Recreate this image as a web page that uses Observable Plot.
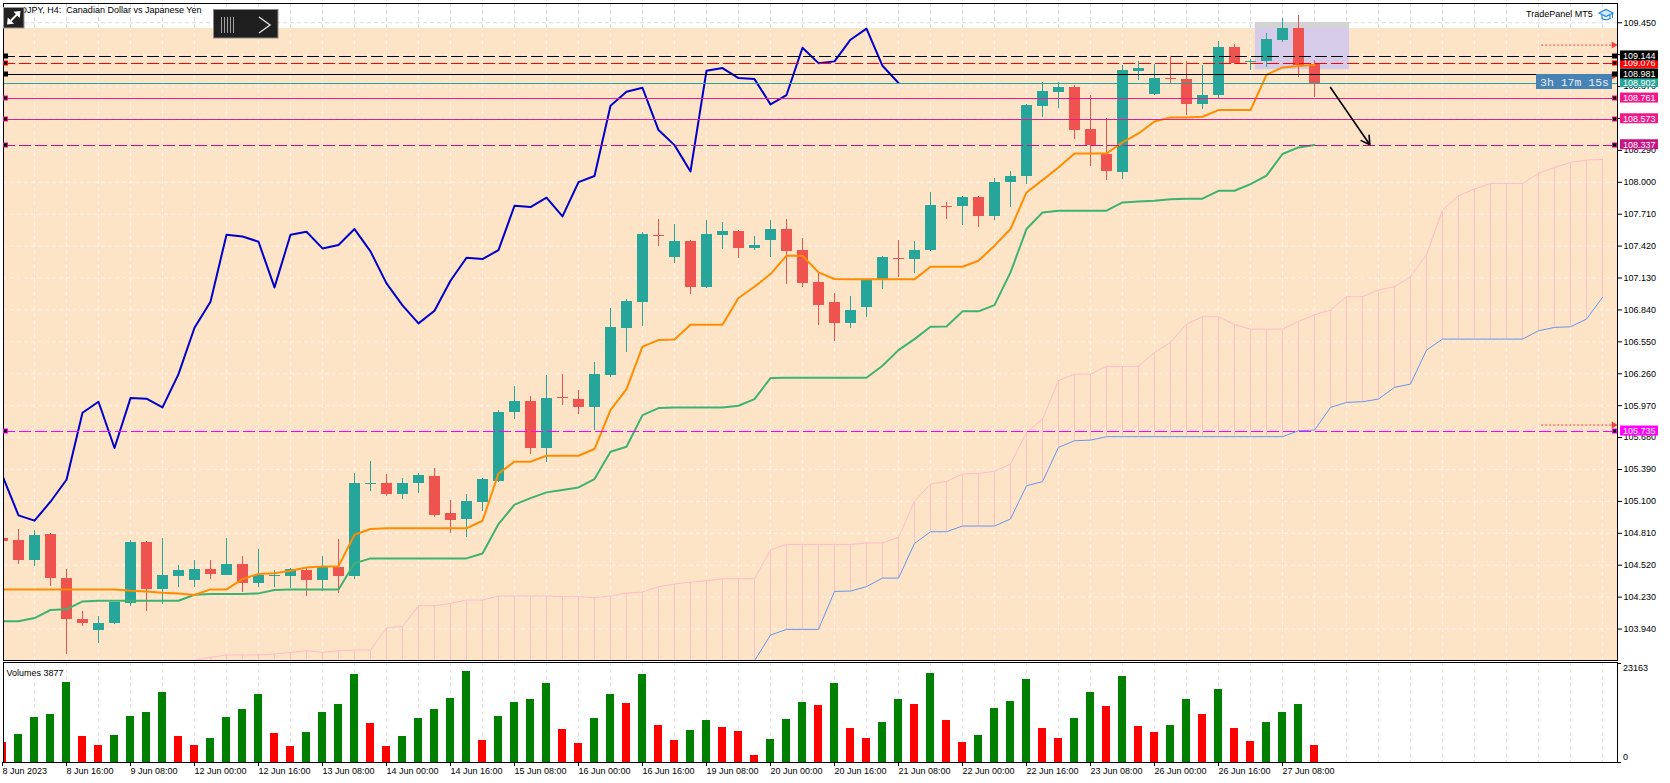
<!DOCTYPE html>
<html><head><meta charset="utf-8">
<script src="https://cdn.jsdelivr.net/npm/d3@7"></script>
<script src="https://cdn.jsdelivr.net/npm/@observablehq/plot@0.6"></script>
<style>
html,body{margin:0;padding:0;background:#fff;overflow:hidden;}
#wrap{position:relative;width:1670px;height:783px;}
#wrap svg{position:absolute;left:0;display:block;max-width:none;}
</style></head><body><div id="wrap"></div>
<script>
// ---- candles (H4 bars, index 0 = 8 Jun 2023 00:00) ----
const opens  = [104.767,104.743,104.567,104.797,104.403,104.031,103.928,103.991,104.173,104.724,104.300,104.419,104.385,104.479,104.428,104.531,104.355,104.419,104.419,104.470,104.379,104.500,104.415,105.252,105.261,105.164,105.264,105.324,104.991,104.937,105.091,105.282,105.912,106.006,105.585,106.040,106.030,105.954,106.242,106.672,106.908,107.520,107.318,107.460,107.045,107.518,107.551,107.399,107.472,107.575,107.378,107.087,106.905,106.718,106.863,107.118,107.311,107.299,107.381,107.784,107.781,107.860,107.690,107.999,108.054,108.690,108.817,108.859,108.478,108.257,108.090,109.008,108.799,108.947,108.938,108.708,108.787,109.223,109.090,109.096,109.293,109.396,109.074];
const highs  = [104.790,104.849,104.840,104.812,104.479,104.098,104.052,104.185,104.743,104.734,104.767,104.516,104.567,104.561,104.767,104.603,104.661,104.470,104.491,104.500,104.603,104.758,105.352,105.461,105.343,105.306,105.349,105.397,105.112,105.161,105.306,105.924,106.142,106.051,106.248,106.251,106.106,106.366,106.857,106.939,107.542,107.666,107.620,107.469,107.657,107.633,107.560,107.505,107.651,107.666,107.493,107.172,106.993,106.960,107.112,107.324,107.469,107.460,107.905,107.814,107.869,107.869,108.038,108.096,108.705,108.908,108.908,108.878,108.793,108.581,109.059,109.099,109.074,109.141,109.099,109.059,109.277,109.250,109.117,109.353,109.489,109.514,109.105];
const lows   = [104.710,104.531,104.510,104.325,103.704,103.964,103.810,103.985,104.149,104.101,104.161,104.319,104.319,104.391,104.422,104.270,104.319,104.319,104.304,104.234,104.282,104.264,104.391,105.191,105.143,105.115,105.173,104.955,104.809,104.773,105.006,105.275,105.845,105.524,105.455,105.970,105.888,105.742,106.227,106.454,106.690,107.414,107.263,106.984,107.039,107.390,107.308,107.378,107.318,107.075,107.045,106.703,106.554,106.675,106.772,107.027,107.136,107.172,107.372,107.660,107.611,107.590,107.651,107.772,107.984,108.590,108.672,108.390,108.144,108.014,108.029,108.923,108.793,108.893,108.611,108.665,108.765,109.074,109.014,109.044,109.271,108.953,108.771];
const closes = [104.737,104.567,104.788,104.403,104.031,103.991,103.994,104.179,104.724,104.300,104.422,104.470,104.485,104.437,104.531,104.355,104.422,104.425,104.479,104.385,104.500,104.415,105.264,105.261,105.164,105.267,105.333,104.973,104.925,105.097,105.297,105.906,106.006,105.585,106.039,106.033,105.954,106.257,106.678,106.915,107.524,107.508,107.460,107.045,107.524,107.551,107.399,107.430,107.575,107.372,107.081,106.881,106.718,106.833,107.105,107.314,107.302,107.384,107.787,107.775,107.860,107.690,108.002,108.057,108.696,108.823,108.859,108.475,108.338,108.099,109.014,109.038,108.947,108.938,108.708,108.793,109.223,109.083,109.099,109.296,109.396,109.059,108.902];
const volumes = [4758,6552,10530,11232,18720,6084,3978,6318,10764,11700,16380,6084,3978,5616,10530,12402,15912,6786,3744,7020,11700,13572,20592,9126,3744,6084,10296,12402,14976,21294,5148,10764,14040,14742,18486,7722,4446,10296,15912,13806,20592,8658,5148,7488,9828,8190,7254,1638,5382,10062,14040,13338,18486,7956,5616,9360,14742,13572,20826,9828,4680,6318,12636,14274,19422,7956,5616,10296,16380,13104,20124,8424,7020,8658,14742,11232,17082,7956,4914,9360,11700,13572,3877];

// ---- Ichimoku ----
const tenkan = [104.300,104.300,104.300,104.300,104.300,104.300,104.300,104.300,104.288,104.282,104.270,104.264,104.249,104.300,104.300,104.394,104.440,104.446,104.470,104.500,104.509,104.509,104.797,104.849,104.855,104.855,104.855,104.855,104.855,104.855,104.924,105.354,105.461,105.461,105.515,105.515,105.515,105.576,105.930,106.121,106.506,106.566,106.572,106.706,106.706,106.706,106.948,107.051,107.166,107.333,107.333,107.181,107.121,107.118,107.118,107.118,107.118,107.118,107.233,107.233,107.233,107.287,107.424,107.575,107.908,108.020,108.135,108.262,108.262,108.262,108.363,108.444,108.553,108.590,108.590,108.596,108.656,108.656,108.656,108.977,109.044,109.056,109.065];
const kijun = [104.010,104.010,104.040,104.113,104.119,104.191,104.197,104.197,104.197,104.197,104.197,104.197,104.252,104.258,104.258,104.258,104.264,104.294,104.300,104.300,104.300,104.300,104.537,104.582,104.582,104.582,104.582,104.582,104.582,104.582,104.627,104.894,105.070,105.130,105.182,105.203,105.227,105.303,105.551,105.597,105.884,105.948,105.954,105.954,105.954,105.954,105.969,106.030,106.221,106.224,106.224,106.224,106.224,106.224,106.224,106.333,106.475,106.575,106.687,106.690,106.827,106.827,106.884,107.181,107.575,107.725,107.742,107.742,107.742,107.742,107.817,107.826,107.832,107.845,107.851,107.851,107.923,107.923,107.984,108.060,108.257,108.317,108.338];
const spanAStart = 12;
const spanA = [103.658,103.682,103.704,103.704,103.704,103.713,103.728,103.743,103.728,103.743,103.749,103.749,103.949,103.964,104.152,104.152,104.173,104.203,104.203,104.240,104.240,104.240,104.240,104.234,104.234,104.225,104.240,104.267,104.276,104.325,104.349,104.367,104.379,104.397,104.397,104.397,104.658,104.709,104.709,104.709,104.709,104.709,104.722,104.722,104.773,105.100,105.258,105.282,105.348,105.355,105.373,105.439,105.727,105.848,106.197,106.257,106.257,106.327,106.327,106.327,106.454,106.545,106.712,106.778,106.778,106.706,106.666,106.666,106.666,106.736,106.796,106.839,106.960,106.960,107.021,107.051,107.142,107.342,107.748,107.878,107.938,107.990,107.990,107.990,108.081,108.135,108.181,108.202,108.208];
const spanBStart = 47;
const spanB = [103.652,103.885,103.937,103.937,103.937,104.282,104.285,104.325,104.403,104.403,104.718,104.824,104.824,104.876,104.876,104.876,104.940,105.242,105.280,105.591,105.651,105.657,105.688,105.688,105.688,105.688,105.688,105.688,105.688,105.688,105.688,105.688,105.688,105.688,105.742,105.748,105.954,106.000,106.006,106.030,106.136,106.166,106.475,106.575,106.575,106.575,106.575,106.575,106.575,106.651,106.681,106.687,106.757,106.954];
const chikouShift = 26;

// ---- axes ----
const priceTicks = [109.450,109.160,108.870,108.580,108.290,108.000,107.710,107.420,107.130,106.840,106.550,106.260,105.970,105.680,105.390,105.100,104.810,104.520,104.230,103.940];
const dateTickBars = [0,4,8,12,16,20,24,28,32,36,40,44,48,52,56,60,64,68,72,76,80];
const dateTickLabels = ["8 Jun 2023","8 Jun 16:00","9 Jun 08:00","12 Jun 00:00","12 Jun 16:00","13 Jun 08:00","14 Jun 00:00","14 Jun 16:00","15 Jun 08:00","16 Jun 00:00","16 Jun 16:00","19 Jun 08:00","20 Jun 00:00","20 Jun 16:00","21 Jun 08:00","22 Jun 00:00","22 Jun 16:00","23 Jun 08:00","26 Jun 00:00","26 Jun 16:00","27 Jun 08:00"];
const volumeMaxLabel = 23163;
const currentVolume = 3877;

// ---- chart objects ----
const levelPrices = [109.144,109.076,108.981,108.902,108.761,108.573,108.337,105.735];
const rectObject = {x1:78.3, x2:84.2, y1:109.023, y2:109.453};
const trendArrow = [{x1:83.0, y1:108.862, x2:85.46, y2:108.341}];
const tradeArrowPrices = [109.247, 108.965, 105.794];
const tradeArrowBars = [96.2, 100.7];
const peachTop = 109.398;
const timerText = "3h 17m 15s";

// ---- styles (separate from data) ----
const levelColor = ["#000000","#ff0000","#000000","#26a69a","#f0198a","#f0198a","#c71585","#ff00ff"];
const levelDash  = ["12,4","12,4",null,null,null,null,"12,4","12,4"];
const levelMarker= [true,true,true,false,true,true,true,true];
const UP="#26a69a", DN="#ef5350";
const FONT = "Liberation Sans, Arial, sans-serif";

const N = closes.length;
const bars = d3.range(N).map(i => ({i, o:opens[i], h:highs[i], l:lows[i], c:closes[i], v:volumes[i],
  up: closes[i] >= opens[i], vup: i > 0 && volumes[i] > volumes[i-1]}));
const chikou = d3.range(N - chikouShift).map(i => ({i, y: closes[i + chikouShift]}));
const tk = tenkan.map((y,i)=>({i,y}));
const kj = kijun.map((y,i)=>({i,y}));
const sa = spanA.map((y,j)=>({i:j+spanAStart, y}));
const sb = spanB.map((y,j)=>({i:j+spanBStart, y}));
const xDom = [0.0625, 100.9375];
const yDom = [103.654, 109.625];
const hatch = sa.map(d => ({i:d.i, a:d.y, b: (d.i >= spanBStart ? spanB[d.i-spanBStart] : yDom[0]-0.2)}));
const gridKs = d3.range(2, 101, 2);
const bodyMin = 0.009;

const styleObj = {fontFamily: FONT, fontSize: "9px", background: "transparent", overflow: "visible", color: "black"};

const main = Plot.plot({
  width: 1670, height: 662,
  marginLeft: 3, marginRight: 53, marginTop: 3, marginBottom: 2,
  x: {domain: xDom, axis: null},
  y: {domain: yDom, axis: null},
  style: styleObj,
  marks: [
    Plot.rect([0], {x1: xDom[0], x2: xDom[1], y1: yDom[0], y2: peachTop, fill: "#fee4c6"}),
    Plot.ruleX(gridKs, {y1: peachTop, y2: yDom[1], stroke: "#dcdcdc", strokeDasharray: "4,3"}),
    Plot.ruleX(gridKs, {y1: yDom[0], y2: peachTop, stroke: "#f9f2ec", strokeDasharray: "4,3"}),
    Plot.ruleY(priceTicks.filter(p => p > peachTop), {stroke: "#dcdcdc", strokeDasharray: "4,3"}),
    Plot.ruleY(priceTicks.filter(p => p < peachTop), {stroke: "#f9f2ec", strokeDasharray: "4,3"}),
    // cloud
    Plot.ruleX(hatch, {x: "i", y1: "a", y2: "b", stroke: "#ffc0cb", clip: true, shapeRendering: "crispEdges"}),
    Plot.line(sa, {x: "i", y: "y", stroke: "#ffbccb", strokeWidth: 1, clip: true}),
    Plot.line(sb, {x: "i", y: "y", stroke: "#6495ed", strokeWidth: 1, clip: true}),
    // rectangle object
    Plot.rect([rectObject], {x1: "x1", x2: "x2", y1: "y1", y2: peachTop, fill: "#d6cce9"}),
    Plot.rect([rectObject], {x1: "x1", x2: "x2", y1: peachTop, y2: "y2", fill: "#d3d3d3"}),
    // candles
    Plot.ruleX(bars, {x: "i", y1: "l", y2: "h", stroke: d => d.up ? UP : DN, clip: true, shapeRendering: "crispEdges"}),
    Plot.rect(bars, {x1: d => d.i - 0.34375, x2: d => d.i + 0.34375,
      y1: d => Math.min(d.o, d.c), y2: d => Math.max(Math.max(d.o, d.c), Math.min(d.o, d.c) + bodyMin),
      fill: d => d.up ? UP : DN, clip: true, shapeRendering: "crispEdges"}),
    // indicator lines
    Plot.line(chikou, {x: "i", y: "y", stroke: "#0000cd", strokeWidth: 2, clip: true}),
    Plot.line(kj, {x: "i", y: "y", stroke: "#3cb371", strokeWidth: 2, clip: true}),
    Plot.line(tk, {x: "i", y: "y", stroke: "#ff8c00", strokeWidth: 2, clip: true}),
    // horizontal level objects
    ...levelPrices.map((p, j) => Plot.ruleY([p], {stroke: levelColor[j], strokeDasharray: levelDash[j], strokeWidth: 1, shapeRendering: "crispEdges"})),
    // trend arrow
    Plot.arrow(trendArrow, {x1: "x1", y1: "y1", x2: "x2", y2: "y2", stroke: "black", strokeWidth: 1.6, headLength: 9}),
    // trade arrows (dotted, right side)
    Plot.ruleY(tradeArrowPrices, {x1: tradeArrowBars[0], x2: tradeArrowBars[1], stroke: "#f04040", strokeDasharray: "2,2"}),
    Plot.dot(tradeArrowPrices, {x: tradeArrowBars[1], y: d => d, symbol: "triangle", rotate: 90, r: 2.6, fill: "#f04040", stroke: "none"}),
    Plot.frame({stroke: "black"}),
    Plot.axisY({anchor: "right", label: null, ticks: priceTicks, tickFormat: d => d.toFixed(3), tickSize: 4, tickPadding: 2})
  ]
});
main.style.top = "0px";

const vol = Plot.plot({
  width: 1670, height: 123,
  marginLeft: 3, marginRight: 53, marginTop: 2, marginBottom: 21,
  x: {domain: xDom, axis: null},
  y: {domain: [0, 23400], axis: null},
  style: styleObj,
  marks: [
    Plot.ruleX(gridKs, {stroke: "#e4e4e4", strokeDasharray: "4,3"}),
    Plot.rect(bars, {x1: d => d.i - 0.25, x2: d => d.i + 0.25, y1: 0, y2: "v",
      fill: d => d.vup ? "#008000" : "#ff0000", clip: true, shapeRendering: "crispEdges"}),
    Plot.frame({stroke: "black"}),
    Plot.axisX({anchor: "bottom", label: null, ticks: dateTickBars, tickFormat: d => dateTickLabels[dateTickBars.indexOf(d)],
      tickSize: 4, tickPadding: 1, textAnchor: "start", dx: 0}),
    Plot.axisY({anchor: "right", label: null, ticks: [0, volumeMaxLabel], tickFormat: () => "", tickSize: 3})
  ]
});
vol.style.top = "660px";

const wrap = document.getElementById("wrap");
wrap.appendChild(main);
wrap.appendChild(vol);

// ---- overlays on the main panel ----
const ys = main.scale("y");
const g = d3.select(main).append("g").attr("font-family", FONT).attr("font-size", 9).attr("text-anchor", "start");

// level markers (left + right ends)
levelPrices.forEach((p, j) => {
  if (!levelMarker[j]) return;
  const y = Math.round(ys.apply(p));
  [3.5, 1612.5].forEach(x => {
    g.append("rect").attr("x", x).attr("y", y - 2).attr("width", 4).attr("height", 4)
      .attr("fill", "black").attr("stroke", levelColor[j]).attr("stroke-width", 1);
  });
});

// timer label
g.append("rect").attr("x", 1536).attr("y", 74).attr("width", 76).attr("height", 15).attr("fill", "#4682b4");
g.append("text").attr("x", 1540).attr("y", 85.5).attr("font-family", "Liberation Mono, monospace")
  .attr("font-size", 11.5).attr("fill", "#e6edf5").style("white-space", "pre").text(timerText);

// price label boxes on the axis
[7,6,5,4,3,2,1,0].forEach(j => {
  const y = ys.apply(levelPrices[j]);
  g.append("rect").attr("x", 1620).attr("y", y - 5.5).attr("width", 38).attr("height", 10).attr("fill", levelColor[j]);
  g.append("text").attr("x", 1623).attr("y", y + 3).attr("fill", "white").text(levelPrices[j].toFixed(3));
});

// title + toolbar icons
g.append("text").attr("x", 8).attr("y", 13).attr("fill", "black").style("white-space", "pre")
  .text("CADJPY, H4:  Canadian Dollar vs Japanese Yen");
g.append("rect").attr("x", 3.5).attr("y", 7.5).attr("width", 20.5).attr("height", 20.5).attr("fill", "#222").attr("stroke", "#9a9a9a");
g.append("path").attr("d", "M9,22.5 L18.5,13").attr("stroke", "white").attr("stroke-width", 2);
g.append("path").attr("d", "M20.5,11 L13.5,11.8 L19.7,18 Z").attr("fill", "white");
g.append("path").attr("d", "M7,24.5 L7.8,17.5 L14,23.7 Z").attr("fill", "white");
g.append("rect").attr("x", 213.5).attr("y", 9.5).attr("width", 64.5).attr("height", 28.5).attr("fill", "#1f1f1f").attr("stroke", "#8a8a8a");
[221,224,227,230,233].forEach(x => g.append("line").attr("x1", x + 0.5).attr("x2", x + 0.5).attr("y1", 17).attr("y2", 33).attr("stroke", "#a0a0a0"));
g.append("path").attr("d", "M259,17 L270,25 L259,33").attr("fill", "none").attr("stroke", "#dcdcdc").attr("stroke-width", 1.5);
g.append("text").attr("x", 1526).attr("y", 17).attr("fill", "black").text("TradePanel MT5");
g.append("path").attr("d", "M1599,13 L1606,9.5 L1613,13 L1606,16.5 Z").attr("fill", "#d6ecfb").attr("stroke", "#1e88e5").attr("stroke-width", 1.2);
g.append("path").attr("d", "M1602,15 L1602,18.5 Q1606,21 1610,18.5 L1610,15").attr("fill", "none").attr("stroke", "#1e88e5").attr("stroke-width", 1.2);
g.append("path").attr("d", "M1612.5,13 L1612.5,18").attr("stroke", "#1e88e5").attr("stroke-width", 1);

// ---- overlays on the volume panel ----
const vs = vol.scale("y");
const gv = d3.select(vol).append("g").attr("font-family", FONT).attr("font-size", 9).attr("fill", "black").attr("text-anchor", "start");
gv.append("text").attr("x", 6.5).attr("y", 15.5).text("Volumes " + currentVolume);
gv.append("text").attr("x", 1623).attr("y", vs.apply(volumeMaxLabel) + 8).text(String(volumeMaxLabel));
gv.append("text").attr("x", 1623).attr("y", vs.apply(0) - 2).text("0");
</script></body></html>
